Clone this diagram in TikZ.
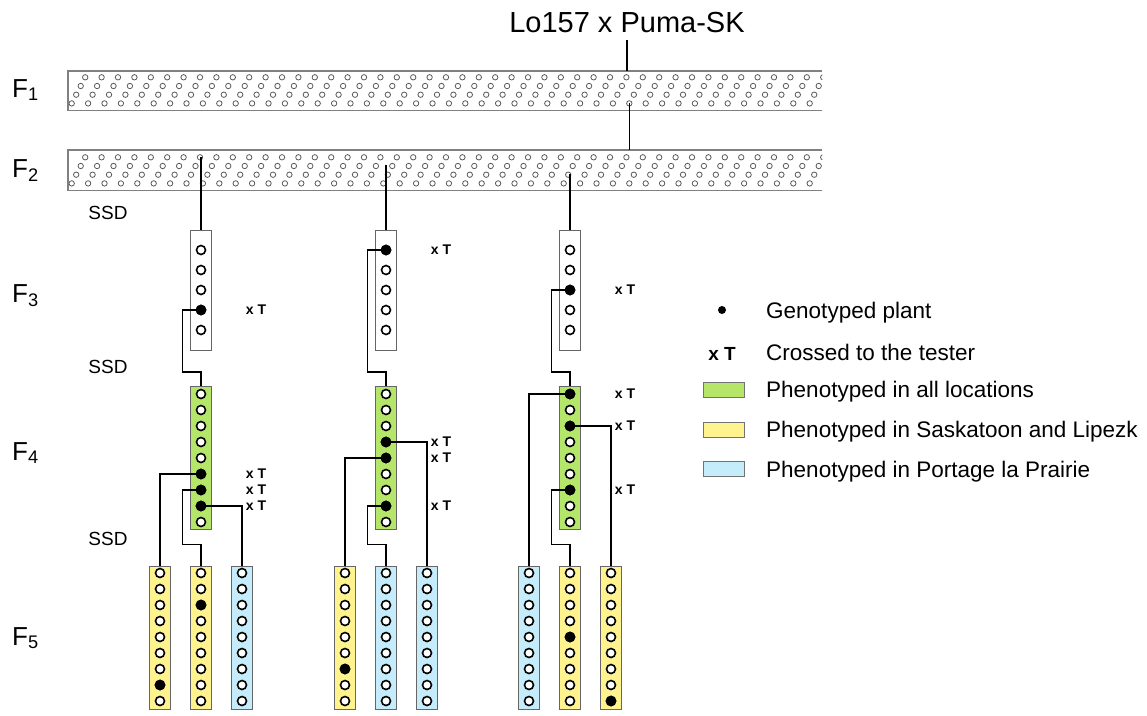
\documentclass[tikz,border=0pt]{standalone}
\usepackage{fontspec}
\setmainfont{Liberation Sans}
\usetikzlibrary{positioning,calc}

\definecolor{allloc}{RGB}{181,230,106}
\definecolor{saslip}{RGB}{255,243,143}
\definecolor{portage}{RGB}{196,236,250}

\begin{document}
\begin{tikzpicture}[
  x=1pt, y=-1pt,
  link/.style={line width=1.4pt},
  barline/.style={draw=black!50, line width=1.3pt},
  seed/.style={draw=black!65, line width=0.8pt},
  tube/.style={rectangle, draw=black!60, line width=1pt, minimum width=21pt, inner sep=0pt},
  plant/.style={circle, draw, line width=1.6pt, fill=white, minimum size=9pt, inner sep=0pt},
  geno/.style={plant, fill=black},
  gen/.style={font=\fontsize{26}{30}\selectfont, anchor=base west, inner sep=0pt},
  ssd/.style={font=\fontsize{19}{22}\selectfont},
  cross/.style={font=\fontsize{14}{16}\selectfont\bfseries},
  legtext/.style={font=\fontsize{22.5}{26}\selectfont, anchor=base west, inner sep=0pt},
  swatch/.style={rectangle, draw=black!55, line width=1pt, minimum width=41pt, minimum height=15pt, inner sep=0pt}
]
\useasboundingbox (0,0) rectangle (1147,715);

% parents and the two bulk generations
\node[font=\fontsize{29}{34}\selectfont, inner sep=0pt] (title) at (627,23) {Lo157 x Puma-SK};
\node[minimum width=754pt, minimum height=39pt, inner sep=0pt, anchor=north west] (F1) at (68,71) {};
\node[minimum width=754pt, minimum height=40pt, inner sep=0pt, anchor=north west] (F2) at (68,150) {};
\foreach \blk in {F1,F2} {
  \begin{scope}
    \clip (\blk.north west) rectangle (\blk.south east);
    \foreach \k in {0,...,46}
      \foreach \r in {0,...,3}
        \draw[seed] ($(\blk.south west)+(3.7+4.5*\r+16.4*\k,-7-8.7*\r)$) circle (2.7);
  \end{scope}
  \draw[barline] (\blk.north east) -- (\blk.north west) -- (\blk.south west) -- (\blk.south east);
}
\coordinate (pick1) at (629.3,103);
\coordinate (pickA) at (201,157);
\coordinate (pickB) at (386,165);
\coordinate (pickC) at (570,174);

% generation labels
\node[gen] (lF1) at (12,97) {F\textsubscript{1}};
\node[gen] (lF2) at (12,177) {F\textsubscript{2}};
\node[gen] (lF3) at (12,302) {F\textsubscript{3}};
\node[gen] (lF4) at (12,460) {F\textsubscript{4}};
\node[gen] (lF5) at (12,645) {F\textsubscript{5}};
\node[ssd] (ssd1) at (108,213) {SSD};
\node[ssd] (ssd2) at (108,367) {SSD};
\node[ssd] (ssd3) at (108,539) {SSD};

% F3 and F4 families
\foreach \c/\x in {a/201,b/386,c/570} {
  \node[tube, fill=white, minimum height=120pt] (f3\c) at (\x,290) {};
  \foreach \i in {1,...,5} \node[plant] (f3\c-\i) at (\x,230+20*\i) {};
  \node[tube, fill=allloc, minimum height=143pt] (f4\c) at (\x,458) {};
  \foreach \i in {1,...,9} \node[plant] (f4\c-\i) at (\x,378+16*\i) {};
}

% F5 families
\foreach \n/\x/\col in {a1/160/saslip, a2/201/saslip, a3/242/portage,
                        b1/345/saslip, b2/386/portage, b3/427/portage,
                        c1/529/portage, c2/570/saslip, c3/611/saslip} {
  \node[tube, fill=\col, minimum height=143pt] (f5\n) at (\x,637.5) {};
  \foreach \i in {1,...,9} \node[plant] (f5\n-\i) at (\x,557+16*\i) {};
}

% genotyped plants
\foreach \p in {f3a-4, f3b-1, f3c-3, f4a-6, f4a-7, f4a-8, f4b-4, f4b-5, f4b-8,
                f4c-1, f4c-3, f4c-7, f5a1-8, f5a2-3, f5b1-7, f5c2-5, f5c3-9}
  \node[geno] (\p) at (\p) {};

% crossed to the tester
\foreach \p in {f3a-4, f3b-1, f3c-3, f4a-6, f4a-7, f4a-8, f4b-4, f4b-5, f4b-8,
                f4c-1, f4c-3, f4c-7}
  \node[cross] (x\p) at ([xshift=55pt]\p) {x T};

% pedigree lines
\draw[link] ([yshift=-7pt]title.south) -- (title.south |- F1.north);
\draw[link] (pick1) -- (pick1 |- F2.north);
\draw[link] (pickA) -- (f3a.north);
\draw[link] (pickB) -- (f3b.north);
\draw[link] (pickC) -- (f3c.north);
\foreach \c/\i in {a/4,b/1,c/3}
  \draw[link] (f3\c-\i.west) -- ++(-13,0) |- ([yshift=14pt]f4\c.north) -- (f4\c.north);

\draw[link] (f4a-6.west) -| (f5a1.north);
\draw[link] (f4a-7.west) -- ++(-13,0) |- ([yshift=21pt]f5a2.north) -- (f5a2.north);
\draw[link] (f4a-8.east) -| (f5a3.north);
\draw[link] (f4b-5.west) -| (f5b1.north);
\draw[link] (f4b-8.west) -- ++(-13,0) |- ([yshift=21pt]f5b2.north) -- (f5b2.north);
\draw[link] (f4b-4.east) -| (f5b3.north);
\draw[link] (f4c-1.west) -| (f5c1.north);
\draw[link] (f4c-7.west) -- ++(-13,0) |- ([yshift=21pt]f5c2.north) -- (f5c2.north);
\draw[link] (f4c-3.east) -| (f5c3.north);

% legend
\node[circle, fill=black, minimum size=8pt, inner sep=0pt] (keygeno) at (722,310) {};
\node[font=\fontsize{19}{22}\selectfont\bfseries, anchor=base, inner sep=0pt] (keycross) at (722,360) {x T};
\node[swatch, fill=allloc] (keyall) at (723.5,390) {};
\node[swatch, fill=saslip] (keysas) at (723.5,430) {};
\node[swatch, fill=portage] (keypor) at (723.5,469) {};
\node[legtext] (tgeno) at (766,318) {Genotyped plant};
\node[legtext] (tcross) at (766,360) {Crossed to the tester};
\node[legtext] (tall) at (766,397) {Phenotyped in all locations};
\node[legtext] (tsas) at (766,437) {Phenotyped in Saskatoon and Lipezk};
\node[legtext] (tpor) at (766,477) {Phenotyped in Portage la Prairie};
\end{tikzpicture}
\end{document}
